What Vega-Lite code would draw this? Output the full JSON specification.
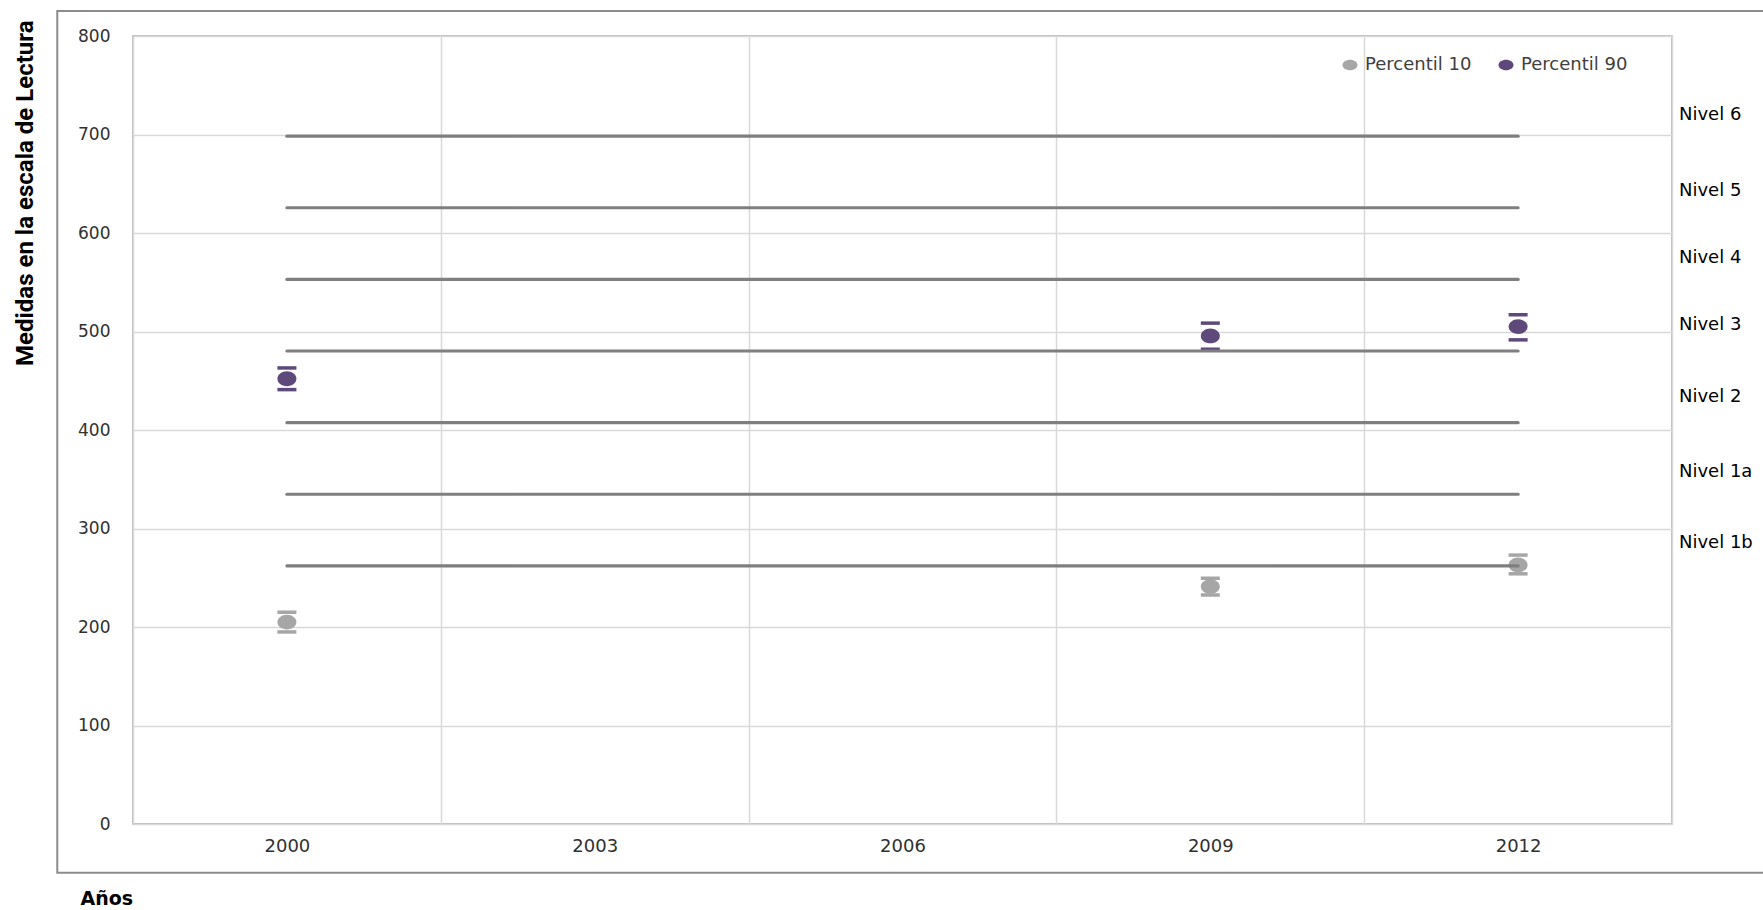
{
  "$schema": "https://vega.github.io/schema/vega-lite/v6.json",
  "width": 1539,
  "height": 788,
  "autosize": {"type": "none"},
  "padding": {"left": 133, "top": 36, "right": 91, "bottom": 86},
  "background": "white",
  "config": {
    "view": {"stroke": "#a6a6a6", "strokeWidth": 1.5},
    "font": "DejaVu Sans"
  },
  "datasets": {
    "percentiles": [
      {"anio": 2000, "percentil": "Percentil 10", "valor": 205, "inf": 195, "sup": 215},
      {"anio": 2000, "percentil": "Percentil 90", "valor": 452, "inf": 441, "sup": 463},
      {"anio": 2009, "percentil": "Percentil 10", "valor": 241, "inf": 232.5, "sup": 249.5},
      {"anio": 2009, "percentil": "Percentil 90", "valor": 495.5, "inf": 482, "sup": 508.5},
      {"anio": 2012, "percentil": "Percentil 10", "valor": 263, "inf": 254, "sup": 273},
      {"anio": 2012, "percentil": "Percentil 90", "valor": 505, "inf": 491.5, "sup": 517}
    ],
    "niveles": [
      {"nivel": "Nivel 1b", "umbral": 262.04, "etiqueta": 285},
      {"nivel": "Nivel 1a", "umbral": 334.75, "etiqueta": 357},
      {"nivel": "Nivel 2", "umbral": 407.47, "etiqueta": 434},
      {"nivel": "Nivel 3", "umbral": 480.18, "etiqueta": 507},
      {"nivel": "Nivel 4", "umbral": 552.89, "etiqueta": 575},
      {"nivel": "Nivel 5", "umbral": 625.61, "etiqueta": 643},
      {"nivel": "Nivel 6", "umbral": 698.32, "etiqueta": 720}
    ]
  },
  "layer": [
    {
      "data": {"name": "percentiles"},
      "mark": {"type": "tick", "orient": "horizontal", "size": 19, "thickness": 3.5, "opacity": 1},
      "encoding": {
        "x": {
          "field": "anio",
          "type": "quantitative",
          "title": "Años",
          "scale": {"domain": [1998.5, 2013.5], "nice": false, "zero": false},
          "axis": {
            "values": [1998.5, 2000, 2001.5, 2003, 2004.5, 2006, 2007.5, 2009, 2010.5, 2012, 2013.5],
            "format": "d",
            "labelExpr": "datum.value % 3 == 2 ? datum.label : ''",
            "grid": true,
            "gridColor": "#d9d9d9",
            "gridWidth": 1.5,
            "gridOpacity": {"condition": {"test": "datum.value % 3 != 0.5", "value": 0}, "value": 1},
            "domain": false,
            "ticks": false,
            "labelFont": "DejaVu Sans",
            "labelFontSize": 18,
            "labelColor": "#303030",
            "labelPadding": 13,
            "titleFont": "DejaVu Sans",
            "titleFontWeight": "bold",
            "titleFontSize": 19,
            "titleColor": "#000000",
            "titleAlign": "left",
            "titleBaseline": "alphabetic",
            "titleAngle": 0,
            "titleX": -53,
            "titleY": 80
          }
        },
        "y": {
          "field": "sup",
          "type": "quantitative",
          "title": "Medidas en la escala de Lectura",
          "scale": {"domain": [0, 800], "nice": false},
          "axis": {
            "values": [0, 100, 200, 300, 400, 500, 600, 700, 800],
            "grid": true,
            "gridColor": "#d9d9d9",
            "gridWidth": 1.5,
            "domain": false,
            "ticks": false,
            "labelFont": "DejaVu Sans",
            "labelFontSize": 17,
            "labelColor": "#303030",
            "labelPadding": 23,
            "titleFont": "Roboto",
            "titleFontWeight": "bold",
            "titleFontSize": 24,
            "titleColor": "#000000",
            "titleAngle": -90,
            "titleAlign": "right",
            "titleBaseline": "alphabetic",
            "titleX": -101,
            "titleY": -16
          }
        },
        "color": {
          "field": "percentil",
          "type": "nominal",
          "scale": {"domain": ["Percentil 10", "Percentil 90"], "range": ["#a6a6a6", "#5f497a"]},
          "legend": {
            "title": null,
            "orient": "none",
            "direction": "horizontal",
            "legendX": 1208,
            "legendY": 20,
            "padding": 0,
            "symbolType": "M-1,0A1,0.7,0,1,1,1,0A1,0.7,0,1,1,-1,0Z",
            "symbolSize": 225,
            "symbolStrokeWidth": 0,
            "labelFont": "DejaVu Sans",
            "labelFontSize": 18,
            "labelColor": "#404040",
            "labelOffset": 6,
            "columnPadding": 25
          }
        }
      }
    },
    {
      "data": {"name": "percentiles"},
      "mark": {"type": "tick", "orient": "horizontal", "size": 19, "thickness": 3.5, "opacity": 1},
      "encoding": {
        "x": {"field": "anio", "type": "quantitative", "title": "Años"},
        "y": {"field": "inf", "type": "quantitative", "title": "Medidas en la escala de Lectura"},
        "color": {"field": "percentil", "type": "nominal"}
      }
    },
    {
      "data": {"name": "percentiles"},
      "mark": {"type": "point", "filled": true, "opacity": 1, "size": 361, "shape": "M-1,0A1,0.78,0,1,1,1,0A1,0.78,0,1,1,-1,0Z", "strokeWidth": 0},
      "encoding": {
        "x": {"field": "anio", "type": "quantitative", "title": "Años"},
        "y": {"field": "valor", "type": "quantitative", "title": "Medidas en la escala de Lectura"},
        "color": {"field": "percentil", "type": "nominal"}
      }
    },
    {
      "data": {"name": "niveles"},
      "mark": {"type": "rule", "color": "#7f7f7f", "strokeWidth": 3.2, "strokeCap": "round"},
      "encoding": {
        "x": {"datum": 2000},
        "x2": {"datum": 2012},
        "y": {"field": "umbral", "type": "quantitative", "title": "Medidas en la escala de Lectura"}
      }
    },
    {
      "data": {"name": "niveles"},
      "mark": {"type": "text", "align": "left", "baseline": "middle", "dx": 7, "fontSize": 18, "font": "DejaVu Sans", "color": "#000000", "clip": false},
      "encoding": {
        "x": {"datum": 2013.5},
        "y": {"field": "etiqueta", "type": "quantitative", "title": "Medidas en la escala de Lectura"},
        "text": {"field": "nivel", "type": "nominal"}
      }
    },
    {
      "data": {"values": [{"marco": 1}]},
      "mark": {"type": "rect", "fillOpacity": 0, "stroke": "#8c8c8c", "strokeWidth": 2, "clip": false},
      "encoding": {
        "x": {"datum": 1997.762},
        "x2": {"datum": 2014.41},
        "y": {"datum": 825.4},
        "y2": {"datum": -49.4}
      }
    }
  ]
}
